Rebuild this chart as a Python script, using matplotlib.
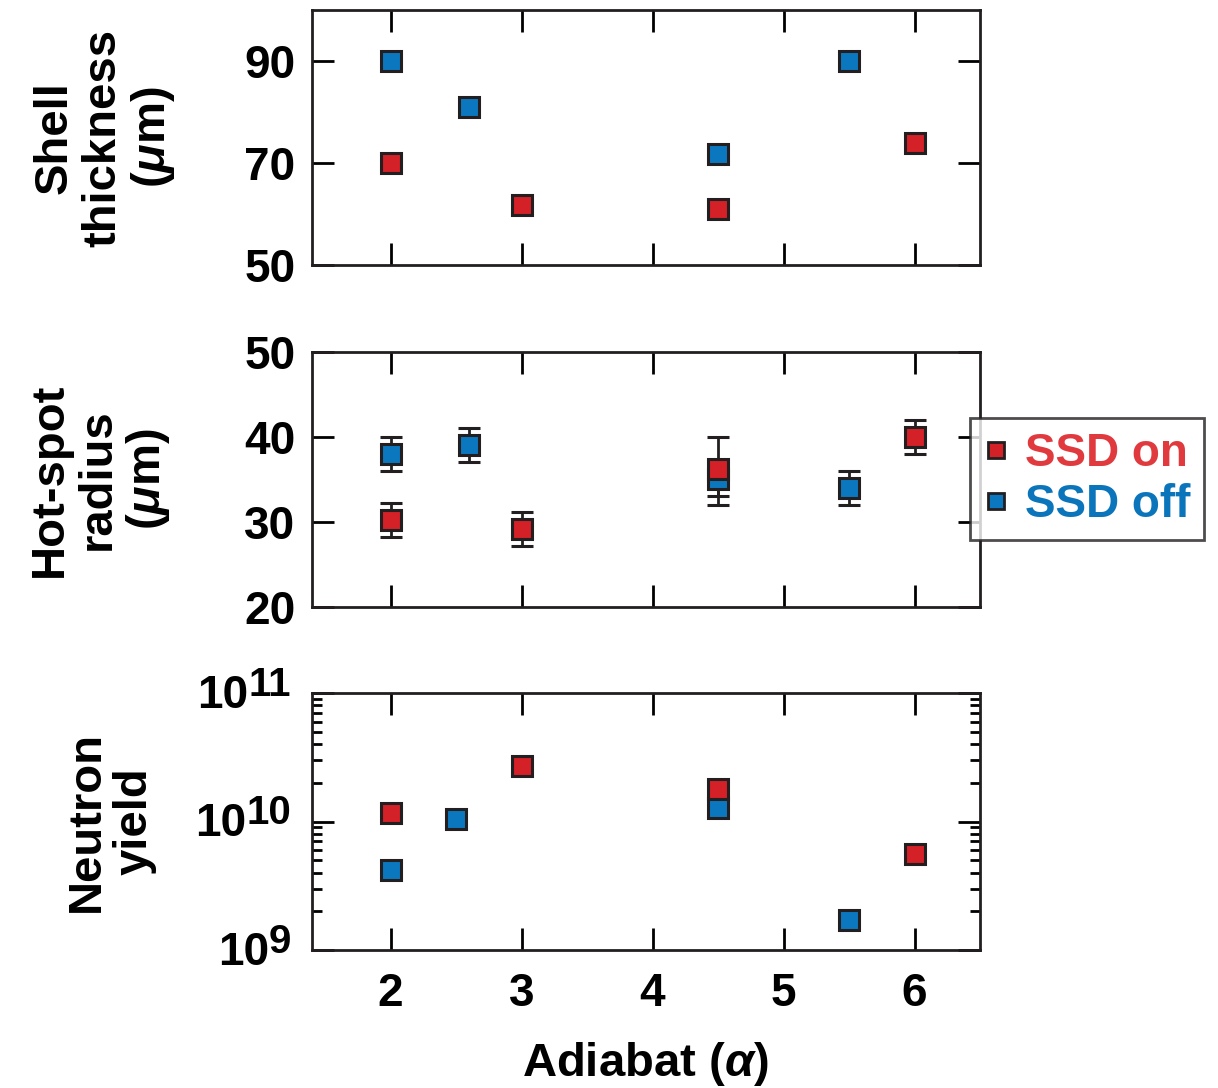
import matplotlib
matplotlib.use('Agg')
import matplotlib.pyplot as plt
from matplotlib.ticker import FixedLocator, LogLocator, NullFormatter
import numpy as np

plt.rcParams['font.family'] = ['Liberation Sans', 'DejaVu Sans']
plt.rcParams['font.weight'] = 'bold'
plt.rcParams['mathtext.fontset'] = 'custom'
plt.rcParams['mathtext.rm'] = 'Liberation Sans'
plt.rcParams['mathtext.bf'] = 'Liberation Sans:bold'
plt.rcParams['mathtext.it'] = 'Liberation Sans:italic'

# Данные
# Толщина оболочки (мкм)
shell_on_x = [2.0, 3.0, 4.5, 6.0]
shell_on_y = [70.0, 61.8, 60.9, 74.0]
shell_on_err = [0.0, 0.0, 0.0, 0.0]
shell_off_x = [2.0, 2.6, 4.5, 5.5]
shell_off_y = [90.0, 80.9, 71.8, 90.0]
shell_off_err = [1.2, 1.2, 1.2, 1.2]

# Радиус горячего пятна (мкм)
hs_on_x = [2.0, 3.0, 4.5, 6.0]
hs_on_y = [30.2, 29.2, 36.2, 40.0]
hs_on_lo = [2.0, 2.0, 3.1, 2.0]
hs_on_hi = [2.0, 2.0, 3.8, 2.0]
hs_off_x = [2.0, 2.6, 4.5, 5.5]
hs_off_y = [38.0, 39.0, 35.1, 34.0]
hs_off_lo = [2.0, 2.0, 3.1, 2.0]
hs_off_hi = [2.0, 2.0, 1.0, 2.0]

# Нейтронный выход
ny_on_x = [2.0, 3.0, 4.5, 6.0]
ny_on_y = [1.17e10, 2.7e10, 1.8e10, 5.6e9]
ny_off_x = [2.0, 2.5, 4.5, 5.5]
ny_off_y = [4.2e9, 1.05e10, 1.28e10, 1.7e9]
ny_decades = [9, 10, 11]

RED = '#d42027'
BLUE = '#0b77bf'
EDGE = '#231f20'
FS = 33

fig = plt.figure(figsize=(12.18, 10.88), dpi=100)
W, H = 1218, 1088
def add_ax(top, bottom):
    return fig.add_axes([312 / W, 1 - bottom / H, 668 / W, (bottom - top) / H])

ax1 = add_ax(10, 265)
ax2 = add_ax(352, 607)
ax3 = add_ax(693, 950)

mk = dict(fmt='s', ms=14, mew=2.2, mec=EDGE, ecolor=EDGE, elinewidth=2.0,
          capsize=8, capthick=2.0, zorder=3)

def draw_pair(ax, xo, yo, eo, xn, yn, en):
    ax.errorbar(xo, yo, yerr=eo, mfc=BLUE, label='SSD off', **mk)
    ax.errorbar(xn, yn, yerr=en, mfc=RED, label='SSD on', **mk)

draw_pair(ax1, shell_off_x, shell_off_y, shell_off_err,
          shell_on_x, shell_on_y, shell_on_err)
draw_pair(ax2, hs_off_x, hs_off_y, [hs_off_lo, hs_off_hi],
          hs_on_x, hs_on_y, [hs_on_lo, hs_on_hi])
draw_pair(ax3, ny_off_x, ny_off_y, [np.array(ny_off_y) * 0.02] * 2,
          ny_on_x, ny_on_y, [np.array(ny_on_y) * 0.02] * 2)

for ax in (ax1, ax2, ax3):
    ax.set_xlim(1.4, 6.5)
    ax.xaxis.set_major_locator(FixedLocator([2, 3, 4, 5, 6]))
    ax.tick_params(which='major', direction='in', length=16, width=2,
                   top=True, right=True, labelsize=FS, pad=12)
    ax.tick_params(which='minor', direction='in', length=7, width=2,
                   top=True, right=True)
    for s in ax.spines.values():
        s.set_linewidth(2)
        s.set_color(EDGE)

ax1.set_ylim(50, 100)
ax1.set_yticks([50, 70, 90])
ax2.set_ylim(20, 50)
ax2.set_yticks([20, 30, 40, 50])
ax1.tick_params(labelbottom=False)
ax2.tick_params(labelbottom=False)

ax3.set_yscale('log')
ax3.set_ylim(1e9, 1e11)
ax3.yaxis.set_major_locator(FixedLocator([10.0 ** d for d in ny_decades]))
ax3.yaxis.set_minor_locator(LogLocator(base=10, subs=np.arange(2, 10)))
ax3.yaxis.set_minor_formatter(NullFormatter())
ax3.tick_params(axis='y', labelleft=False)
ax3.tick_params(axis='x', pad=16)

# Подписи 10^n вручную: степень почти того же размера, что и основание
fig.canvas.draw()
rend = fig.canvas.get_renderer()
for d in ny_decades:
    sup = ax3.annotate(str(d), xy=(0, 10.0 ** d), xycoords=('axes fraction', 'data'),
                       xytext=(-15, 6), textcoords='offset points',
                       ha='right', va='center', fontsize=29)
    wpx = sup.get_window_extent(rend).width
    ax3.annotate('10', xy=(0, 10.0 ** d), xycoords=('axes fraction', 'data'),
                 xytext=(-15 - wpx * 72 / fig.dpi, -2), textcoords='offset points',
                 ha='right', va='center', fontsize=FS)

# Подписи осей
def ylab(ax, x, txt):
    b = ax.get_position()
    fig.text(x / W, (b.y0 + b.y1) / 2, txt, rotation=90, ha='center',
             va='center', fontsize=34, multialignment='center', linespacing=1.12)

ylab(ax1, 105, 'Shell\nthickness\n' + r'$(\mathit{\mu}$m$)$')
ylab(ax2, 100, 'Hot-spot\nradius\n' + r'$(\mathit{\mu}$m$)$')
ylab(ax3, 111, 'Neutron\nyield')
fig.text(645 / W, 1 - 1064 / H, r'Adiabat ($\mathit{\alpha}$)', ha='center',
         va='center', fontsize=34)

# Легенда
h_on = plt.Line2D([], [], ls='none', marker='s', ms=11, mfc=RED, mec=EDGE, mew=2)
h_off = plt.Line2D([], [], ls='none', marker='s', ms=11, mfc=BLUE, mec=EDGE, mew=2)
leg = fig.legend([h_on, h_off], ['SSD on', 'SSD off'], loc='upper left',
                 bbox_to_anchor=(970 / W, 1 - 418 / H), borderaxespad=0,
                 fontsize=33, frameon=True, fancybox=False, handlelength=0.55,
                 handletextpad=0.35, borderpad=0.3, labelspacing=0.15)
leg.get_frame().set_edgecolor(EDGE)
leg.get_frame().set_linewidth(2)
for t, c in zip(leg.get_texts(), ['#e03a3e', '#0b75bc']):
    t.set_color(c)

fig.savefig('out.png', dpi=100)
